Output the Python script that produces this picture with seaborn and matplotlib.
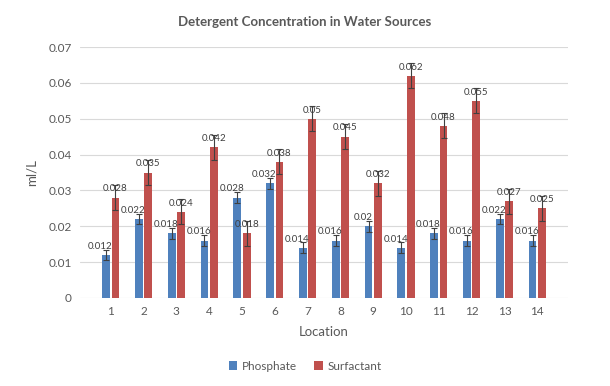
import matplotlib
matplotlib.use("Agg")
import matplotlib.pyplot as plt
import numpy as np
import pandas as pd
import seaborn as sns

# Values
locations = [str(i) for i in range(1, 15)]
phosphate = [0.012, 0.022, 0.018, 0.016, 0.028, 0.032, 0.014,
             0.016, 0.020, 0.014, 0.018, 0.016, 0.022, 0.016]
surfactant = [0.028, 0.035, 0.024, 0.042, 0.018, 0.038, 0.050,
              0.045, 0.032, 0.062, 0.048, 0.055, 0.027, 0.025]
phosphate_err = [0.0015] * 14
surfactant_err = [0.0035] * 14

series = ["Phosphate", "Surfactant"]
colors = {"Phosphate": "#4F81BD", "Surfactant": "#C0504D"}
label_shift = {"Phosphate": -4, "Surfactant": 0}  # points, Excel nudges the blue labels left

sns.set_theme(style="white")
plt.rcParams["font.family"] = ["Lato", "DejaVu Sans"]

df = pd.DataFrame({
    "Location": locations * 2,
    "value": phosphate + surfactant,
    "err": phosphate_err + surfactant_err,
    "series": ["Phosphate"] * 14 + ["Surfactant"] * 14,
})

fig, ax = plt.subplots(figsize=(6.1, 3.86), dpi=100)
fig.subplots_adjust(left=80 / 610, right=568 / 610, top=1 - 47 / 386, bottom=1 - 298 / 386)

sns.barplot(data=df, x="Location", y="value", hue="series", hue_order=series,
            palette=colors, width=0.57, gap=0.17, errorbar=None, ax=ax,
            saturation=1, edgecolor="none")

# error bars + value labels on each bar
for cont, name in zip(ax.containers, series):
    sub = df[df["series"] == name]
    xs = [p.get_x() + p.get_width() / 2 for p in cont.patches]
    ax.errorbar(xs, sub["value"], yerr=sub["err"], fmt="none",
                ecolor="#404040", elinewidth=0.8, capsize=2, capthick=0.8, zorder=3)
    for x, v in zip(xs, sub["value"]):
        ax.annotate(f"{v:g}", (x, v), xytext=(label_shift[name], 3), textcoords="offset points",
                    ha="center", va="bottom", fontsize=7, color="#404040", zorder=4)

ax.set_ylim(0, 0.07)
ax.set_yticks(np.arange(0, 0.071, 0.01))
ax.set_yticklabels(["0"] + [f"{t:.2f}" for t in np.arange(0.01, 0.071, 0.01)])
ax.yaxis.grid(True, color="#D9D9D9", linewidth=0.8)
ax.set_axisbelow(True)
for s in ax.spines.values():
    s.set_visible(False)
ax.tick_params(axis="both", length=0, labelsize=8.5, labelcolor="#595959", pad=6)

ax.set_xlabel("Location", fontsize=9.5, color="#595959", labelpad=6)
ax.set_ylabel("ml/L", fontsize=9.5, color="#595959", labelpad=8)

fig.text(0.5, 1 - 22 / 386, "Detergent Concentration in Water Sources",
         ha="center", va="center", fontsize=9.5, fontweight="bold", color="#595959")

handles, labels = ax.get_legend_handles_labels()
ax.legend(handles, labels, loc="center", bbox_to_anchor=(0.5, 1 - 366 / 386),
          bbox_transform=fig.transFigure, ncol=2, frameon=False, fontsize=8.5,
          handlelength=0.7, handleheight=0.7, handletextpad=0.4, columnspacing=1.5,
          labelcolor="#595959")

fig.savefig("out.png", dpi=100)
